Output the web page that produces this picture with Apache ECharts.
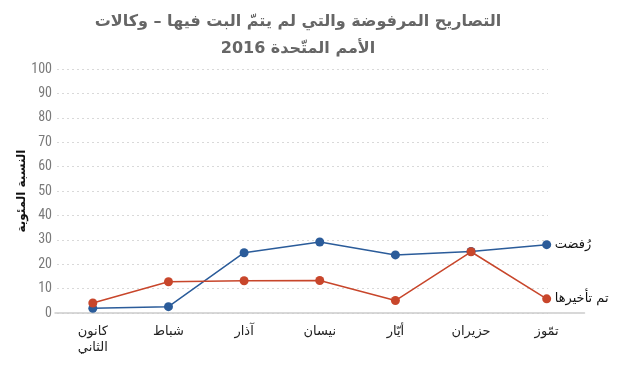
<!DOCTYPE html>
<html>
<head>
<meta charset="utf-8">
<script src="https://cdn.jsdelivr.net/npm/echarts@6/dist/echarts.min.js"></script>
<style>html,body{margin:0;padding:0;background:#fff}#c{width:628px;height:377px}</style>
</head>
<body>
<div id="c"></div>
<script>
var titleLines = ['التصاريح المرفوضة والتي لم يتمّ البت فيها – وكالات', 'الأمم المتّحدة 2016'];
var yAxisName = 'النسبة المئوية';
var categories = ['كانون\nالثاني', 'شباط', 'آذار', 'نيسان', 'أيّار', 'حزيران', 'تمّوز'];
var yTicks = {min: 0, max: 100, interval: 10};
var rejectedName = 'رُفضت';
var rejected = [1.9, 2.6, 24.7, 29.1, 23.8, 25.2, 28.0];
var delayedName = 'تم تأخيرها';
var delayed = [4.1, 12.8, 13.2, 13.3, 5.1, 25.1, 5.8];

var chart = echarts.init(document.getElementById('c'));
var gridTop = 69, gridBottom = 64;
chart.setOption({
  animation: false,
  title: {
    text: titleLines.join('\n'),
    left: 293, textAlign: 'center', top: 3,
    textStyle: {fontSize: 16, fontWeight: 'bold', color: '#666666', lineHeight: 27, fontFamily: 'DejaVu Sans'}
  },
  grid: [
    {left: 55, right: 43.5, top: gridTop, bottom: gridBottom},
    {left: 57, right: 80, top: gridTop, bottom: gridBottom}
  ],
  xAxis: [
    {type: 'category', data: categories, gridIndex: 0,
     axisLine: {lineStyle: {color: '#cccccc', width: 1.5}},
     axisTick: {show: false},
     axisLabel: {color: '#222', fontSize: 13, margin: 11, lineHeight: 16, fontFamily: 'DejaVu Sans'}},
    {type: 'value', gridIndex: 1, show: false, min: 0, max: 1}
  ],
  yAxis: [
    {type: 'value', gridIndex: 0, min: yTicks.min, max: yTicks.max, interval: yTicks.interval,
     name: yAxisName, nameLocation: 'middle', nameGap: 27, nameMoveOverlap: false,
     nameTextStyle: {color: '#111', fontSize: 12, fontWeight: 'bold', fontFamily: 'DejaVu Sans'},
     axisLine: {show: false}, axisTick: {show: false},
     splitLine: {show: false},
     axisLabel: {color: '#7a7a7a', fontSize: 14, margin: 3, fontFamily: 'Liberation Sans Narrow, Roboto Condensed, Roboto'}},
    {type: 'value', gridIndex: 1, min: yTicks.min, max: yTicks.max, interval: yTicks.interval,
     axisLine: {show: false}, axisTick: {show: false}, axisLabel: {show: false},
     splitLine: {show: true, lineStyle: {color: '#d9d9d9', type: [2, 3], width: 1}}}
  ],
  series: [
    {name: rejectedName, type: 'line', data: rejected, xAxisIndex: 0, yAxisIndex: 0,
     symbol: 'circle', symbolSize: 9,
     itemStyle: {color: '#2b5c9a'}, lineStyle: {color: '#2b5c9a', width: 1.5},
     endLabel: {show: true, formatter: '{a}', color: '#111', fontSize: 13, distance: 8, fontFamily: 'DejaVu Sans'}},
    {name: delayedName, type: 'line', data: delayed, xAxisIndex: 0, yAxisIndex: 0,
     symbol: 'circle', symbolSize: 9,
     itemStyle: {color: '#c8462b'}, lineStyle: {color: '#c8462b', width: 1.5},
     endLabel: {show: true, formatter: '{a}', color: '#111', fontSize: 13, distance: 8, fontFamily: 'DejaVu Sans'}}
  ]
});
</script>
</body>
</html>
